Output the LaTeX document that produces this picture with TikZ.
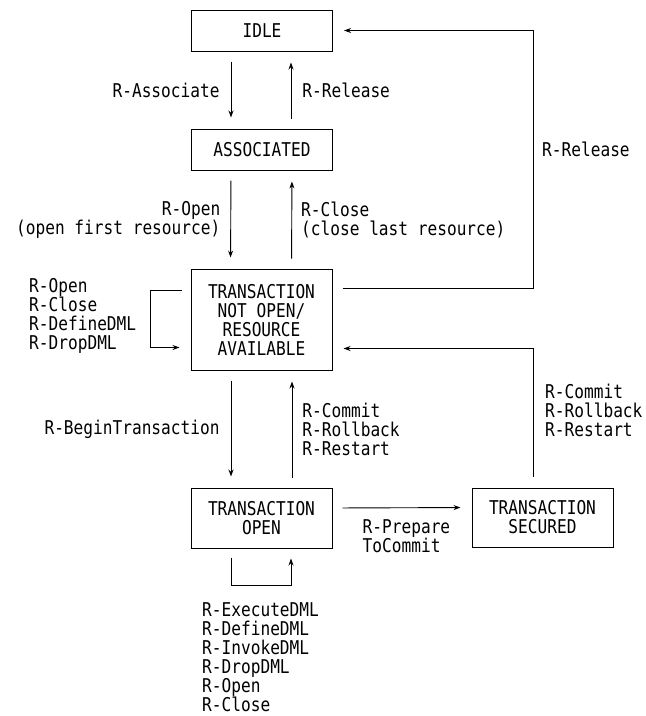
\documentclass[tikz,border=0pt]{standalone}
\usepackage{fontspec}
\newfontfamily\diafont[FakeStretch=0.85]{DejaVu Sans Mono}
\newcommand\diagfont{\diafont\fontsize{19}{19}\selectfont}
\usetikzlibrary{arrows.meta,positioning}
\tikzset{
  state/.style={draw, line width=1pt, minimum width=141pt, align=center, inner sep=0pt, font=\diagfont},
  trans/.style={-{Stealth[length=7pt,width=5pt]}, line width=0.9pt},
  gap/.style={shorten <=10pt, shorten >=11pt},
  lab/.style={align=left, inner sep=0pt, font=\diagfont},
}

\begin{document}
\begin{tikzpicture}[x=1pt, y=-1pt]
  \useasboundingbox (0,0) rectangle (646,716);

  % States
  \node[state, minimum height=41pt] (idle) at (262,30.5) {IDLE};
  \node[state, minimum height=41pt] (assoc) at (262,149.5) {ASSOCIATED};
  \node[state, minimum height=101pt] (tno) at (261.5,319.5) {TRANSACTION\\NOT OPEN/\\RESOURCE\\AVAILABLE};
  \node[state, minimum height=60pt] (topen) at (261.5,518) {TRANSACTION\\OPEN};
  \node[state, minimum height=59pt] (tsec) at (542.5,517.5) {TRANSACTION\\SECURED};

  % Association
  \draw[trans, gap] ([xshift=-31pt]idle.south) -- ([xshift=-31pt]assoc.north)
    node[lab, midway, left=11pt] (lassoc) {R-Associate};
  \draw[trans, gap] ([xshift=29pt]assoc.north) -- ([xshift=29pt]idle.south)
    node[lab, midway, right=11pt] (lrel) {R-Release};

  % Resources
  \draw[trans, gap] ([xshift=-31pt]assoc.south) -- ([xshift=-31pt]tno.north)
    node[lab, midway, left=10pt, align=right] (lopen) {R-Open\\(open first resource)};
  \draw[trans, gap] ([xshift=30pt]tno.north) -- ([xshift=30pt]assoc.south)
    node[lab, midway, right=9pt] (lclose) {R-Close\\(close last resource)};

  % Self loop on TNO
  \draw[trans] ([shift={(-9,-29)}]tno.west) -- ++(-31,0) |- ([shift={(-11,28)}]tno.west);
  \node[lab, anchor=west] (lself) at (29,316) {R-Open\\R-Close\\R-DefineDML\\R-DropDML};

  % Release from TNO
  \draw[trans] ([shift={(10,-31)}]tno.east) -- ++(191,0) |- ([xshift=11pt]idle.east);
  \node[lab, anchor=west] (lrel2) at (542,149) {R-Release};

  % Transactions
  \draw[trans, gap] ([xshift=-30.5pt]tno.south) -- ([xshift=-30.5pt]topen.north)
    node[lab, midway, left=11pt] (lbegin) {R-BeginTransaction};
  \draw[trans, gap] ([xshift=30.5pt]topen.north) -- ([xshift=30.5pt]tno.south)
    node[lab, midway, right=10pt] (lcommit) {R-Commit\\R-Rollback\\R-Restart};

  \draw[trans, gap] ([shift={(0,-10)}]topen.east) -- ([shift={(0,-10)}]tsec.west);
  \node[lab, anchor=north west] (lprep) at ([shift={(30,1)}]topen.east) {R-Prepare\\ToCommit};

  \draw[trans] ([shift={(-9.5,-11)}]tsec.north) |- ([shift={(11,29)}]tno.east);
  \node[lab, anchor=west] (lcommit2) at (545,410) {R-Commit\\R-Rollback\\R-Restart};

  % Self loop on TRANSACTION OPEN
  \draw[trans] ([shift={(-30,9)}]topen.south) -- ++(0,28) -| ([shift={(29.5,10)}]topen.south);
  \node[lab, anchor=west] (ldml) at (202,657) {R-ExecuteDML\\R-DefineDML\\R-InvokeDML\\R-DropDML\\R-Open\\R-Close};
\end{tikzpicture}
\end{document}
